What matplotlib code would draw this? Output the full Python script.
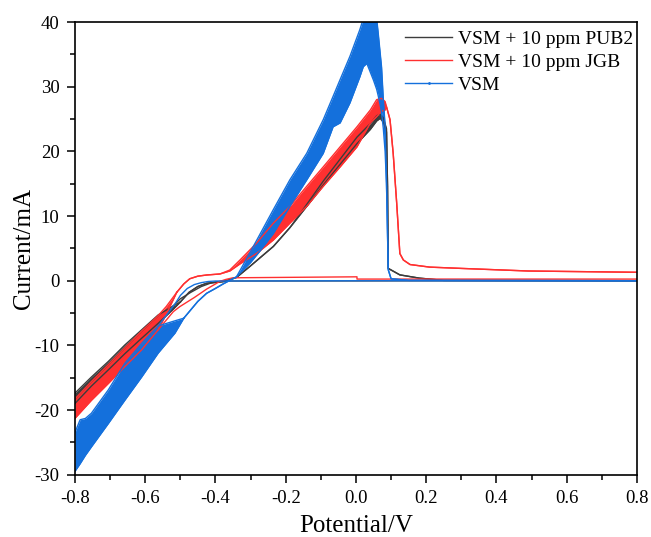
import matplotlib
matplotlib.use("Agg")
import matplotlib.pyplot as plt
from matplotlib.lines import Line2D
from matplotlib.ticker import MultipleLocator

plt.rcParams['font.family'] = ['Liberation Serif', 'DejaVu Serif']
plt.rcParams['axes.unicode_minus'] = False

# Colours of the three traces
BLACK = '#3c3c3c'
RED = '#ff3030'
BLUE = '#1470dc'

# ---- VSM + 10 ppm PUB2 ----
# cathodic noisy band (both sweeps merged)
pub2_cat_v = [-0.80, -0.753, -0.705, -0.658, -0.61, -0.563, -0.52, -0.50]
pub2_cat_lo = [-19.0, -16.3, -13.8, -11.3, -8.9, -6.6, -4.4, -3.3]
pub2_cat_hi = [-17.4, -14.9, -12.5, -9.95, -7.6, -5.3, -3.9, -3.3]
# anodic (forward) sweep band
pub2_fwd_v = [-0.50, -0.475, -0.45, -0.425, -0.378, -0.34, -0.302, -0.235, -0.188,
              -0.14, -0.093, -0.045, 0.003, 0.041, 0.059, 0.069, 0.078, 0.087,
              0.09, 0.092, 0.125, 0.18, 0.25, 0.80]
pub2_fwd_lo = [-3.3, -1.8, -0.9, -0.4, -0.15, 0.5, 2.2, 5.3, 8.2,
               11.5, 14.8, 18.0, 21.2, 23.4, 24.7, 25.1, 24.5, 23.0,
               14.5, 1.9, 0.9, 0.4, 0.05, 0.0]
pub2_fwd_hi = [-3.3, -1.8, -0.9, -0.4, -0.15, 0.5, 2.2, 5.3, 8.2,
               11.8, 15.4, 18.8, 22.2, 24.3, 25.5, 25.8, 25.2, 23.5,
               14.5, 1.9, 0.9, 0.4, 0.05, 0.0]
# return sweep
pub2_rev_v = [0.80, -0.38, -0.41, -0.44, -0.47, -0.50, -0.52]
pub2_rev_i = [0.0, -0.05, -0.3, -0.9, -1.8, -2.8, -3.9]

# ---- VSM + 10 ppm JGB ----
jgb_cat_v = [-0.80, -0.753, -0.705, -0.658, -0.61, -0.563, -0.54, -0.51]
jgb_cat_lo = [-21.3, -18.5, -15.9, -13.3, -10.7, -7.6, -5.2, -1.8]
jgb_cat_hi = [-18.3, -15.6, -13.0, -10.4, -7.8, -5.4, -4.0, -1.8]
jgb_fwd_v = [-0.51, -0.49, -0.473, -0.45, -0.425, -0.387, -0.359, -0.33, -0.283,
             -0.235, -0.188, -0.14, -0.093, -0.045, 0.003, 0.041, 0.059, 0.073,
             0.083, 0.087, 0.097, 0.106, 0.116, 0.125, 0.135, 0.154, 0.21, 0.30,
             0.49, 0.80]
jgb_fwd_lo = [-1.8, -0.5, 0.3, 0.7, 0.88, 1.04, 1.5, 2.6, 4.2,
              6.3, 8.9, 11.5, 14.6, 17.6, 20.7, 24.4, 25.4, 26.2,
              26.4, 26.9, 24.9, 19.7, 12.0, 4.2, 3.2, 2.5, 2.1, 1.9,
              1.5, 1.3]
jgb_fwd_hi = [-1.8, -0.5, 0.3, 0.7, 0.88, 1.04, 1.65, 3.2, 5.8,
              8.9, 11.5, 14.6, 17.6, 20.7, 23.8, 26.4, 28.0, 28.2,
              27.7, 26.9, 24.9, 19.7, 12.0, 4.2, 3.2, 2.5, 2.1, 1.9,
              1.5, 1.3]
jgb_rev_v = [0.80, 0.10, 0.003, 0.003, -0.35, -0.37, -0.387, -0.425, -0.46,
             -0.501, -0.52, -0.563]
jgb_rev_i = [0.25, 0.25, 0.25, 0.6, 0.45, 0.2, -0.1, -1.3, -2.6,
             -4.0, -4.8, -7.6]

# ---- VSM ----
vsm_cat_v = [-0.80, -0.785, -0.77, -0.753, -0.705, -0.658, -0.61, -0.563, -0.515, -0.49]
vsm_cat_lo = [-29.5, -28.3, -27.0, -25.7, -22.1, -18.5, -14.9, -11.2, -8.1, -5.8]
vsm_cat_hi = [-23.5, -21.5, -21.3, -20.5, -16.9, -12.8, -9.7, -7.0, -6.2, -5.8]
vsm_fwd_v = [-0.49, -0.45, -0.425, -0.40, -0.378, -0.34, -0.30, -0.27, -0.235,
             -0.188, -0.14, -0.093, -0.065, -0.045, -0.017, 0.011, 0.021, 0.031,
             0.05, 0.059, 0.063, 0.069, 0.073, 0.078, 0.083, 0.087, 0.092, 0.10,
             0.15, 0.80]
vsm_fwd_lo = [-5.8, -3.2, -1.95, -1.2, -0.5, 0.6, 2.8, 4.8, 7.3,
              11.5, 15.6, 19.7, 23.8, 24.4, 27.5, 31.5, 33.1, 33.6,
              31.0, 29.6, 28.7, 27.2, 26.0, 23.5, 20.0, 15.0, 1.7, 0.3,
              0.05, 0.0]
vsm_fwd_hi = [-5.8, -3.2, -1.95, -1.2, -0.5, 0.6, 4.5, 7.5, 11.0,
              15.6, 19.7, 24.9, 28.5, 31.1, 34.7, 38.8, 40.5, 40.5,
              40.5, 40.5, 38.5, 35.2, 33.0, 28.0, 24.0, 15.0, 1.7, 0.3,
              0.05, 0.0]
vsm_rev_v = [0.80, 0.10, -0.40, -0.42, -0.44, -0.46, -0.48, -0.50, -0.515, -0.563]
vsm_rev_i = [0.0, 0.0, -0.05, -0.12, -0.3, -0.6, -1.2, -2.3, -3.6, -7.0]

labels = ['VSM + 10 ppm PUB2', 'VSM + 10 ppm JGB', 'VSM']


def draw_trace(ax, cat, fwd, rev, color):
    for v, lo, hi in (cat, fwd):
        ax.fill_between(v, lo, hi, color=color, linewidth=0)
        ax.plot(v, lo, color=color, lw=1.0)
        ax.plot(v, hi, color=color, lw=1.0)
    ax.plot(rev[0], rev[1], color=color, lw=1.0)


fig = plt.figure(figsize=(6.51, 5.37), dpi=100)
ax = fig.add_axes([0.115, 0.116, 0.8635, 0.843])

draw_trace(ax, (pub2_cat_v, pub2_cat_lo, pub2_cat_hi),
           (pub2_fwd_v, pub2_fwd_lo, pub2_fwd_hi), (pub2_rev_v, pub2_rev_i), BLACK)
draw_trace(ax, (jgb_cat_v, jgb_cat_lo, jgb_cat_hi),
           (jgb_fwd_v, jgb_fwd_lo, jgb_fwd_hi), (jgb_rev_v, jgb_rev_i), RED)
draw_trace(ax, (vsm_cat_v, vsm_cat_lo, vsm_cat_hi),
           (vsm_fwd_v, vsm_fwd_lo, vsm_fwd_hi), (vsm_rev_v, vsm_rev_i), BLUE)

ax.set_xlim(-0.8, 0.8)
ax.set_ylim(-30, 40)
ax.xaxis.set_major_locator(MultipleLocator(0.2))
ax.xaxis.set_minor_locator(MultipleLocator(0.1))
ax.yaxis.set_major_locator(MultipleLocator(10))
ax.yaxis.set_minor_locator(MultipleLocator(5))
ax.xaxis.set_major_formatter(plt.FuncFormatter(lambda x, p: f"{x:.1f}"))
ax.tick_params(which='major', direction='out', length=6, width=1.1, labelsize=13.5,
               top=False, right=False, pad=5)
ax.tick_params(which='minor', direction='out', length=3.5, width=1.1,
               top=False, right=False)
for s in ax.spines.values():
    s.set_linewidth(1.2)

ax.set_xlabel('Potential/V', fontsize=18, labelpad=6)
ax.set_ylabel('Current/mA', fontsize=18, labelpad=0)

handles = [Line2D([], [], color=BLACK, lw=1.0),
           Line2D([], [], color=RED, lw=1.0),
           Line2D([], [], color=BLUE, lw=1.0, marker='.', markersize=2)]
ax.legend(handles, labels, loc='upper right', bbox_to_anchor=(1.0, 0.991),
          frameon=False, fontsize=14, handlelength=2.4, handletextpad=0.3,
          labelspacing=0.28, borderaxespad=0.0, borderpad=0.2)

fig.savefig('out.png', dpi=100)
